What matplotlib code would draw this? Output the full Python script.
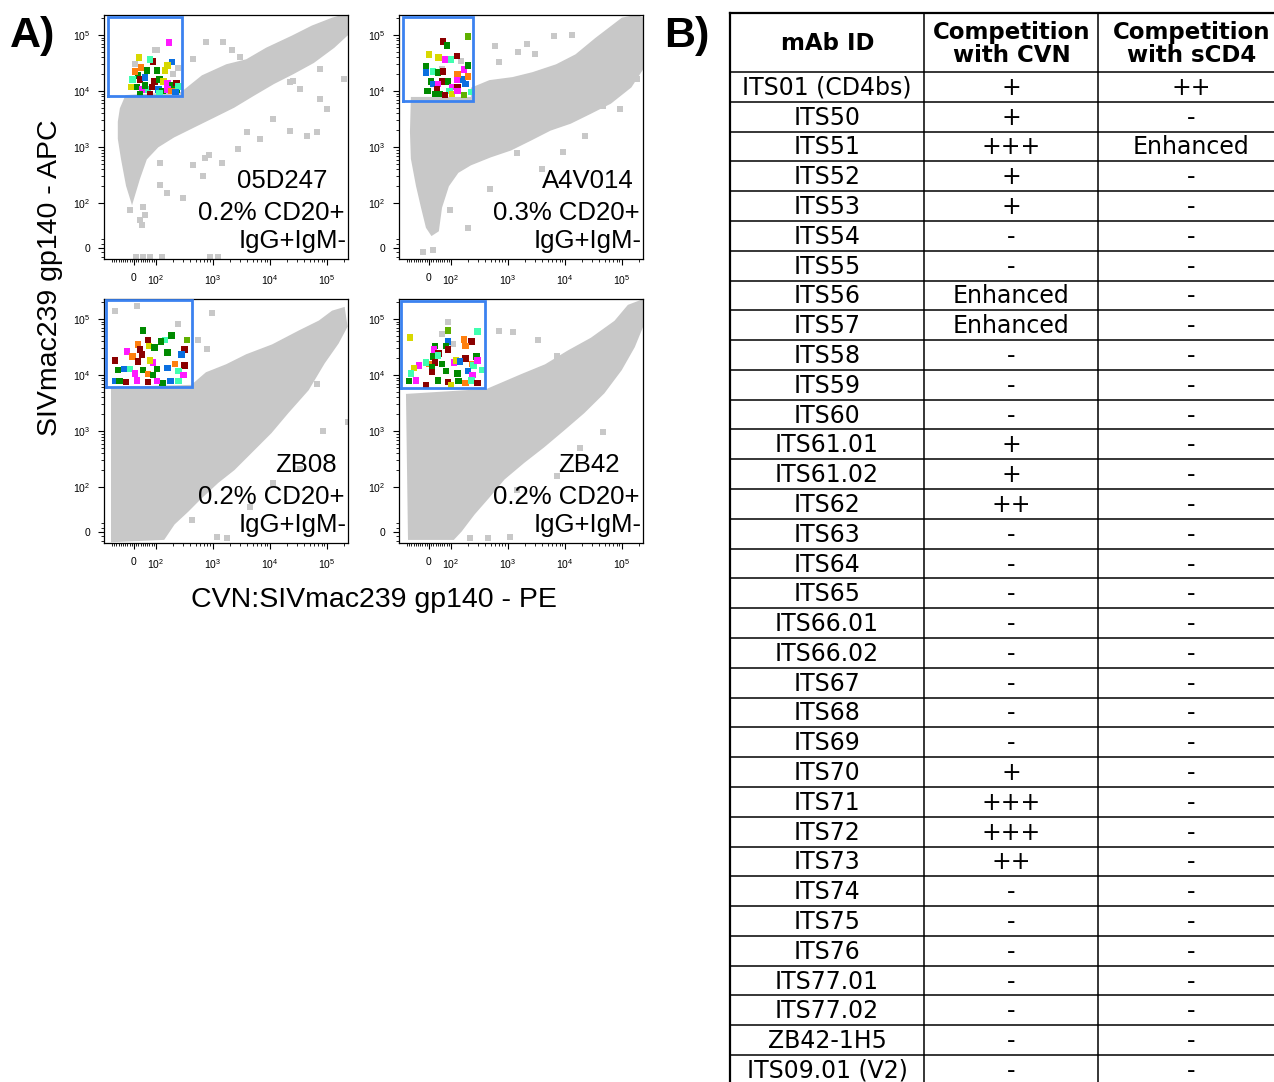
import numpy as np
import matplotlib
matplotlib.use("Agg")
import matplotlib.pyplot as plt

plt.rcParams['font.family'] = ['Liberation Sans', 'DejaVu Sans']
plt.rcParams['mathtext.fontset'] = 'custom'
plt.rcParams['mathtext.rm'] = 'Liberation Sans'
plt.rcParams['mathtext.it'] = 'Liberation Sans:italic'

# ---- panel A data (fluorescence intensities) ----
names = ["05D247", "A4V014", "ZB08", "ZB42"]
pcts = ["0.2% CD20+", "0.3% CD20+", "0.2% CD20+", "0.2% CD20+"]

# outline of the dense grey population
p1_cloud_x = [-64, -55, -32, 286, 667, 1760, 3950, 8900, 2.5e4, 5.6e4, 1.27e5, 2.2e5, 2.3e5, 1.27e5,
              5.6e4, 2.5e4, 1.13e4, 5000, 2250, 1000, 445, 199, 104, 50, 18, -9, -27, -50, -64]
p1_cloud_y = [2830, 4800, 7800, 8850, 1.77e4, 2.77e4, 3.4e4, 5.5e4, 9e4, 1.36e5, 1.88e5, 2.2e5, 1.1e5, 6.3e4,
              3.4e4, 2.17e4, 1.44e4, 8850, 5420, 3600, 2400, 1600, 1060, 630, 277, 123, 208, 630, 1410]
p2_cloud_x = [-73, -77, -73, -50, -27, -5, 14, 36, 50, 82, 127, 215, 483, 1090, 2440, 5400, 1.22e4, 2.75e4,
              6.1e4, 1.37e5, 2.3e5, 2.3e5, 1.8e5, 1.03e5, 6.1e4, 3.6e4, 1.6e4, 7200, 2750, 1220, 483, 243, 243]
p2_cloud_y = [7200, 1880, 630, 208, 91, 47, 33, 40, 91, 208, 370, 510, 710, 940, 1410, 2130, 2830, 4250,
              6400, 1.23e4, 2.77e4, 1.88e5, 2.1e5, 1.88e5, 1.25e5, 8.3e4, 4.2e4, 2.77e4, 2e4, 1.63e4, 1.44e4, 1.08e4, 7200]
p3_cloud_x = [-95, 430, 785, 1760, 3950, 1.13e4, 3.35e4, 7.5e4, 1.27e5, 1.9e5, 2.1e5, 1.48e5, 8.5e4, 4.45e4,
              1.97e4, 1e4, 4450, 2250, 1170, 590, 350, 199, 133, -95]
p3_cloud_y = [5650, 6130, 1.04e4, 1.44e4, 2.17e4, 3.26e4, 5.8e4, 8.7e4, 1.3e5, 1.47e5, 7.4e4, 3.8e4, 1.7e4, 5650,
              2220, 980, 430, 215, 127, 78, 49, 20, -13, -18]
p4_cloud_x = [-95, 430, 695, 1760, 4650, 1.17e4, 2.97e4, 7.8e4, 1.33e5, 2.3e5, 2.3e5, 1.55e5, 9.2e4, 4.6e4,
              2.05e4, 9200, 4100, 1830, 815, 430, 243, 144, 108, -86]
p4_cloud_y = [4250, 5200, 6400, 9600, 1.44e4, 2.55e4, 4.3e4, 8.7e4, 1.66e5, 2.05e5, 8.7e4, 3.26e4, 1.28e4, 5000,
              2220, 1100, 550, 290, 145, 78, 42, 4, -13, -13]

# scattered grey events
p1_out_x = [1500, 760, 445, 104, 2.2e4, 7.5e4, 2e5, 1e5, 6700, 2.2e4, 1440, 445, 297, 36, 50, -18,
            9, 41, 73, 127, 885, 1220, 720, 95, 5, 240, 200,
            2170, 2960, 2.5e4, 3.35e4, 7.5e4, 4.45e4, 6.6e4, 1.13e4, 3950, 2690, 850, 667, 157, 117, 41, 27, 117]
p1_out_y = [7.4e4, 7.4e4, 3.7e4, 5.5e4, 1.44e4, 2.45e4, 1.63e4, 4800, 1400, 1960, 510, 470, 123, 51, 73, 84,
            -20, -20, -20, -20, -20, -20, 630, 5.5e4, 3e4, 2.6e4, 2e4,
            5.5e4, 4e4, 1.5e4, 1.08e4, 7200, 1600, 1880, 3200, 1880, 940, 710, 310, 150, 208, 91, 62, 520]
p2_out_x = [1.3e4, 6400, 2170, 600, 4.6e4, 9.2e4, 1.8e5, 2.2e4, 9200, 3950, 483, 199, 95, -27, 18, 1500, 150, 60,
            1440, 3000, 700]
p2_out_y = [1e5, 9.5e4, 6.8e4, 6.3e4, 5400, 4800, 1.63e4, 1600, 830, 415, 180, 44, 84, -9, -4, 5e4, 3.5e4, 2.5e4,
            770, 4.6e4, 3.3e4]
p3_out_x = [-86, 14, 960, 540, 785, 6.6e4, 2.3e5, 8.5e4, 3.35e4, 1.13e4, 4450, 1170, 1760, 430, 245]
p3_out_y = [1.36e5, 1.67e5, 1.3e5, 4.3e4, 2.9e4, 6900, 1480, 1020, 215, 117, 56, -11, -13, 27, 8e4]
p4_out_x = [86, 695, 3400, 1.33e5, 4.6e4, 1.8e4, 7200, 1440, 1090, 445, 215, -41, 1220, 7200, 60, 110]
p4_out_y = [8.7e4, 6e4, 4.3e4, 4.6e4, 980, 490, 160, 93, -11, -13, -13, 160, 5.8e4, 2.17e4, 5.5e4, 3.6e4]

# coloured (gated, index-sorted) events
p1_pts_x = [169, 23, 86, 191, 32, 59, 73, 104, 144, 160, 18, 27, -5, 50, 95, 117, 136, 160, 195, 230,
            230, 250, -14, 14, 36, 64, 82, 109, 132, 160, 189, 223, 27, 73, 117, 50, 5]
p1_pts_y = [7.4e4, 4.0e4, 3.4e4, 3.3e4, 2.66e4, 2.35e4, 3.7e4, 2.35e4, 2.35e4, 2.9e4, 1.9e4, 1.6e4, 1.6e4,
            1.77e4, 1.5e4, 1.63e4, 1.5e4, 1.38e4, 1.28e4, 1.38e4, 1.08e4, 1.22e4, 1.18e4, 1.18e4, 1.08e4,
            1.08e4, 1.18e4, 1.08e4, 1e4, 1.08e4, 1e4, 9600, 8850, 8850, 9200, 1.27e4, 2.26e4]
p1_pts_c = "myrbogagyygrabrgymgrgaygmarbgmobgrago"
p2_pts_x = [199, 64, 82, 0, 127, 73, 45, 100, -14, -14, 18, 41, 64, 169, 199, 160, 132, 199, 127, 9,
            18, 59, 86, 41, -5, 36, 104, 132, 95, 180, 27, 50, 73, 104, 169, 132, 230]
p2_pts_y = [9.4e4, 7.7e4, 6.5e4, 4.5e4, 4.2e4, 3.7e4, 3.9e4, 3.7e4, 2.77e4, 2.17e4, 2.26e4, 2.17e4, 2.26e4,
            2.45e4, 2.9e4, 1.63e4, 2e4, 1.84e4, 1.57e4, 1.5e4, 1.33e4, 1.5e4, 1.5e4, 1.33e4, 1e4, 1.08e4,
            1.18e4, 1.18e4, 1e4, 1.33e4, 8850, 8850, 8500, 8850, 8500, 1e4, 9600]
p2_pts_c = "lrgyrmyagbagrmgboomgbrgmgrmrabggrylma"
p3_pts_x = [41, 189, 64, 144, 122, 350, 18, 68, 27, 95, 320, -32, 280, 160, 36, -5, -86, 18, 86, 73,
            215, 320, -73, -45, -18, 5, 41, 64, 104, 160, 245, 300, -36, -86, -64, 14, 64, 132, 104, 245, 180, 86]
p3_pts_y = [6.3e4, 5.1e4, 4.2e4, 4.2e4, 3.9e4, 4.2e4, 3.5e4, 3.3e4, 2.9e4, 3.1e4, 2.9e4, 2.66e4, 2.35e4,
            2.55e4, 2.35e4, 2.17e4, 1.84e4, 1.77e4, 1.7e4, 1.84e4, 1.57e4, 1.5e4, 1.23e4, 1.28e4, 1.28e4,
            1.08e4, 1.23e4, 1.04e4, 1.28e4, 1.33e4, 1.18e4, 1e4, 7500, 7800, 7800, 8100, 7500, 7200, 7800,
            7800, 7800, 1e4]
p3_pts_c = "ggraglOyrgrmbgrorrmyorgbamgogbamrbgmrgmabg".replace("O", "o")
p4_pts_x = [86, 290, -86, 169, 230, 86, 77, 180, 27, 23, 45, 86, 18, 41, 280, 180, 0, 27, -45, -14,
            59, 113, 122, 144, 240, 245, 290, -68, -82, 14, 14, 77, 199, 132, 240, -91, -59, -14, 41, 86,
            100, 136, 180, 230, 290, 350]
p4_pts_y = [6.3e4, 6e4, 4.7e4, 4.3e4, 3.9e4, 4e4, 3.3e4, 3.3e4, 3.3e4, 2.9e4, 2.45e4, 2.9e4, 2.17e4, 2.26e4,
            2.17e4, 2e4, 1.57e4, 1.7e4, 1.5e4, 1.7e4, 1.57e4, 1.7e4, 1.84e4, 1.77e4, 1.57e4, 1.5e4, 1.84e4,
            1.33e4, 1.08e4, 1.38e4, 1.13e4, 1.18e4, 1.18e4, 1.08e4, 1e4, 7800, 8100, 6600, 8100, 7500,
            6600, 7800, 7200, 8100, 7200, 1.23e4]
p4_pts_c = "layorbgogmrrgagrormagmyboamyagrgbgmgmrgrygoara"

gate_x0 = [-117, -117, -125, -125]
gate_x1 = [286, 243, 430, 400]
gate_y0 = [8150, 6640, 6130, 5900]
gate_y1 = [2.1e5, 2.1e5, 2.2e5, 2.1e5]

# ---- panel B data ----
mab_ids = ["ITS01 (CD4bs)", "ITS50", "ITS51", "ITS52", "ITS53", "ITS54", "ITS55", "ITS56", "ITS57",
           "ITS58", "ITS59", "ITS60", "ITS61.01", "ITS61.02", "ITS62", "ITS63", "ITS64", "ITS65",
           "ITS66.01", "ITS66.02", "ITS67", "ITS68", "ITS69", "ITS70", "ITS71", "ITS72", "ITS73",
           "ITS74", "ITS75", "ITS76", "ITS77.01", "ITS77.02", "ZB42-1H5", "ITS09.01 (V2)"]
comp_cvn = ["+", "+", "+++", "+", "+", "-", "-", "Enhanced", "Enhanced", "-", "-", "-", "+", "+", "++",
            "-", "-", "-", "-", "-", "-", "-", "-", "+", "+++", "+++", "++", "-", "-", "-", "-", "-", "-", "-"]
comp_scd4 = ["++", "-", "Enhanced"] + ["-"] * 31
headers = ["mAb ID", "Competition\nwith CVN", "Competition\nwith sCD4"]

colors = {"g": "#008a00", "r": "#8b0000", "m": "#ff1aff", "y": "#d8d800", "o": "#ff7f0e",
          "a": "#40ffb0", "b": "#0a6fe0", "l": "#5fb000"}
GREY = "#c8c8c8"


def logicle_like(a):
    def fwd(v):
        v = np.asarray(v, dtype=float)
        av = np.abs(v)
        with np.errstate(divide='ignore', invalid='ignore'):
            lg = np.sign(v) * (a + np.log10(np.maximum(av, 1e-9) / 100.0))
        return np.where(av <= 100, v / 100.0 * a, lg)

    def inv(t):
        t = np.asarray(t, dtype=float)
        at = np.abs(t)
        with np.errstate(over='ignore'):
            lg = np.sign(t) * 100.0 * 10 ** (at - a)
        return np.where(at <= a, t / a * 100.0, lg)
    return fwd, inv


fig = plt.figure(figsize=(12.74, 10.82), dpi=100)
W, H = 1274.0, 1082.0

panels = [
    (p1_cloud_x, p1_cloud_y, p1_out_x, p1_out_y, p1_pts_x, p1_pts_y, p1_pts_c),
    (p2_cloud_x, p2_cloud_y, p2_out_x, p2_out_y, p2_pts_x, p2_pts_y, p2_pts_c),
    (p3_cloud_x, p3_cloud_y, p3_out_x, p3_out_y, p3_pts_x, p3_pts_y, p3_pts_c),
    (p4_cloud_x, p4_cloud_y, p4_out_x, p4_out_y, p4_pts_x, p4_pts_y, p4_pts_c),
]
corners = [(104, 15), (399, 15), (104, 299), (399, 299)]
name_right = [0.915, 0.96, 0.955, 0.905]

xmaj = [0, 1e2, 1e3, 1e4, 1e5]
xmaj_lab = ["0", "$10^2$", "$10^3$", "$10^4$", "$10^5$"]
lin_minor = [-100, -90, -80, -70, -60, -50, -40, -30, -20, -10, 10, 20, 30, 40, 50, 60, 70, 80, 90]
log_minor = [m * 10 ** e for e in (2, 3, 4) for m in range(2, 10)] + [2e5]

for i, (cx, cy, ox, oy, px, py, pc) in enumerate(panels):
    l, t = corners[i]
    ax = fig.add_axes([l / W, 1 - (t + 244) / H, 244 / W, 244 / H])
    ax.set_xscale('function', functions=logicle_like(0.386))
    ax.set_yscale('function', functions=logicle_like(0.80))

    ax.fill(cx, cy, color=GREY, lw=3, zorder=1)
    ax.plot(ox, oy, 's', color=GREY, ms=4.0, mew=0, zorder=2)
    ax.scatter(px, py, c=[colors[k] for k in pc], marker='s', s=24, linewidths=0, zorder=3)
    ax.plot([gate_x0[i], gate_x1[i], gate_x1[i], gate_x0[i], gate_x0[i]],
            [gate_y0[i], gate_y0[i], gate_y1[i], gate_y1[i], gate_y0[i]],
            color="#3b82f0", lw=2.0, zorder=4, solid_joinstyle='miter')

    ax.set_xlim(-138, 2.33e5)
    ax.set_ylim(-24.5, 2.27e5)
    ax.set_xticks(xmaj)
    ax.set_xticklabels(xmaj_lab)
    ax.set_yticks(xmaj)
    ax.set_yticklabels(xmaj_lab)
    ax.set_xticks(lin_minor + log_minor, minor=True)
    ax.set_yticks([-20, -10, 10, 20] + log_minor, minor=True)
    ax.tick_params(which='major', length=4, width=0.8, labelsize=7.5, pad=6)
    ax.tick_params(which='minor', length=2.5, width=0.6)
    for s in ax.spines.values():
        s.set_linewidth(0.9)

    ax.text(name_right[i], 0.291, names[i], transform=ax.transAxes, ha='right', va='baseline', fontsize=18.5)
    ax.text(0.985, 0.160, pcts[i], transform=ax.transAxes, ha='right', va='baseline', fontsize=18.5)
    ax.text(0.993, 0.045, "IgG+IgM-", transform=ax.transAxes, ha='right', va='baseline', fontsize=18.5)

fig.text(50 / W, 1 - 278 / H, "SIVmac239 gp140 - APC", rotation=90, ha='center', va='center', fontsize=20.5)
fig.text(374 / W, 1 - 600 / H, "CVN:SIVmac239 gp140 - PE", ha='center', va='center', fontsize=20.5)
fig.text(10 / W, 1 - 36 / H, "A)", ha='left', va='center', fontsize=31, fontweight='bold')
fig.text(664 / W, 1 - 36 / H, "B)", ha='left', va='center', fontsize=31, fontweight='bold')

# ---- table ----
tax = fig.add_axes([0, 0, 1, 1], zorder=-1)
tax.set_xlim(0, W)
tax.set_ylim(H, 0)
tax.axis('off')

col_edges = [730, 924, 1098, 1290]
col_mid = [(col_edges[k] + col_edges[k + 1]) / 2 for k in range(2)] + [1191]
top, head_bot, row_h = 13, 72, 29.79
n = len(mab_ids)
bottom = head_bot + row_h * n

for k, hd in enumerate(headers):
    tax.text(col_mid[k] + 1, (top + head_bot) / 2 + 1, hd, ha='center', va='center', fontsize=16.5,
             fontweight='bold', family='DejaVu Sans', linespacing=1.0)
for r in range(n):
    yc = head_bot + row_h * (r + 0.5) + 1
    for k, val in enumerate((mab_ids[r], comp_cvn[r], comp_scd4[r])):
        tax.text(col_mid[k], yc, val, ha='center', va='center', fontsize=17, family='DejaVu Sans')

for r in range(n + 1):
    y = head_bot + row_h * r
    tax.plot([col_edges[0], col_edges[-1]], [y, y], color='black', lw=1.1)
tax.plot([col_edges[0], col_edges[-1]], [top, top], color='black', lw=1.6)
for k, x in enumerate(col_edges[:-1]):
    tax.plot([x, x], [top, bottom], color='black', lw=1.6 if k == 0 else 1.1)

fig.savefig("out.png", dpi=100)
